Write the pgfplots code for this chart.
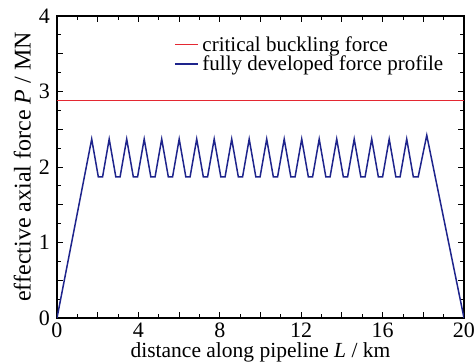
\documentclass[border=0pt]{standalone}
\usepackage{pgfplots}
\pgfplotsset{compat=1.18}
\usepackage{fontspec}
\setmainfont{Liberation Serif}
\definecolor{buckred}{RGB}{228,40,50}
\definecolor{profblue}{RGB}{30,36,140}
\begin{document}
\begin{tikzpicture}
\begin{axis}[
  at={(0,0)}, anchor=south west,
  scale only axis,
  width=407pt, height=302pt,
  xmin=0, xmax=20, ymin=0, ymax=4,
  xtick={0,2,...,20},
  xticklabels={0,,4,,8,,12,,16,,20},
  minor x tick num=1,
  ytick={0,0.5,...,4},
  yticklabels={0,,1,,2,,3,,4},
  minor y tick num=1,
  tick align=inside,
  major tick length=6pt,
  minor tick length=3.5pt,
  every tick/.style={black, line width=0.8pt},
  axis line style={black, line width=1.1pt},
  /pgf/number format/assume math mode=true,
  tick label style={font=\fontsize{22}{24}\selectfont},
  xticklabel style={anchor=base, yshift=-20pt, inner sep=0pt},
  yticklabel style={anchor=east, xshift=-7pt, inner sep=0pt},
  xlabel={distance along pipeline \textit{L} / km},
  ylabel={effective axial force \textit{P} / MN},
  xlabel style={font=\fontsize{21.5}{23}\selectfont, at={(rel axis cs:0.5,0)}, anchor=base, yshift=-40pt, inner sep=0pt},
  ylabel style={font=\fontsize{24}{26}\selectfont, at={(rel axis cs:0,0.5)}, anchor=south, yshift=26pt, inner sep=0pt},
  legend style={at={(rel axis cs:0.285,0.943)}, anchor=north west, draw=none, fill=none,
    font=\fontsize{21}{23}\selectfont, row sep=-1pt, inner sep=1pt,
    nodes={inner xsep=4pt}},
  legend cell align=left,
  legend image code/.code={\draw[#1] (-0.1cm,0cm) -- (0.7cm,0cm);},
]
\addplot[draw=buckred, line width=1.4pt] coordinates {(0,2.88) (20,2.88)};
\addlegendentry{critical buckling force}
\addplot[draw=profblue, line width=1.5pt] coordinates {
(0,0)
(1.705,2.37) (2.030,1.87) (2.240,1.87)
(2.565,2.37) (2.890,1.87) (3.100,1.87)
(3.425,2.37) (3.750,1.87) (3.960,1.87)
(4.285,2.37) (4.610,1.87) (4.820,1.87)
(5.145,2.37) (5.470,1.87) (5.680,1.87)
(6.005,2.37) (6.330,1.87) (6.540,1.87)
(6.865,2.37) (7.190,1.87) (7.400,1.87)
(7.725,2.37) (8.050,1.87) (8.260,1.87)
(8.585,2.37) (8.910,1.87) (9.120,1.87)
(9.445,2.37) (9.770,1.87) (9.980,1.87)
(10.305,2.37) (10.630,1.87) (10.840,1.87)
(11.165,2.37) (11.490,1.87) (11.700,1.87)
(12.025,2.37) (12.350,1.87) (12.560,1.87)
(12.885,2.37) (13.210,1.87) (13.420,1.87)
(13.745,2.37) (14.070,1.87) (14.280,1.87)
(14.605,2.37) (14.930,1.87) (15.140,1.87)
(15.465,2.37) (15.790,1.87) (16.000,1.87)
(16.325,2.37) (16.650,1.87) (16.860,1.87)
(17.185,2.37) (17.510,1.87) (17.750,1.87)
(18.17,2.42)
(20,0)
};
\addlegendentry{fully developed force profile}
\end{axis}
\pgfresetboundingbox
\useasboundingbox (-57pt,-46pt) rectangle (418pt,318pt);
\end{tikzpicture}
\end{document}
